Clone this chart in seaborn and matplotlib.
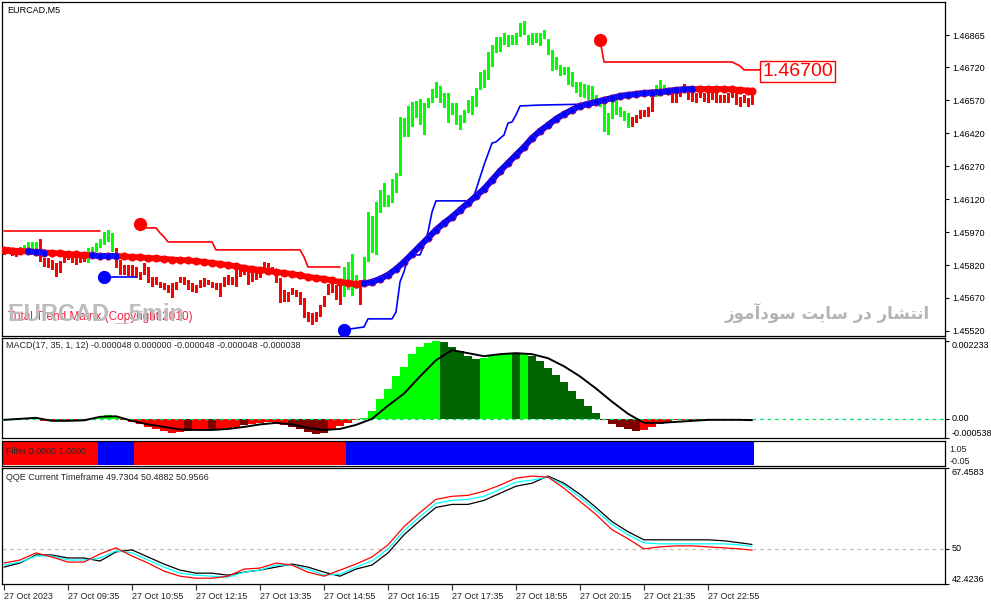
import numpy as np
import matplotlib
matplotlib.use("Agg")
import matplotlib.pyplot as plt
import seaborn as sns

# ── Datos: EURCAD M5, 27 Oct 2023, 188 velas desde 08:15 ────────────
bar_high = [
    1.45898, 1.45902, 1.45898, 1.45898, 1.45902, 1.45911, 1.45925, 1.45925, 1.45925, 1.45939,
    1.45852, 1.45852, 1.45843, 1.45829, 1.45838, 1.45866, 1.45866, 1.45857, 1.45857, 1.45866,
    1.45866, 1.45898, 1.45902, 1.45920, 1.45939, 1.45970, 1.45980, 1.45966, 1.45898, 1.45843,
    1.45820, 1.45820, 1.45820, 1.45811, 1.45788, 1.45829, 1.45811, 1.45766, 1.45766, 1.45743,
    1.45738, 1.45729, 1.45738, 1.45743, 1.45766, 1.45766, 1.45752, 1.45738, 1.45729, 1.45752,
    1.45761, 1.45752, 1.45743, 1.45738, 1.45738, 1.45766, 1.45775, 1.45766, 1.45807, 1.45798,
    1.45798, 1.45807, 1.45784, 1.45788, 1.45807, 1.45834, 1.45829, 1.45811, 1.45798, 1.45761,
    1.45707, 1.45697, 1.45716, 1.45707, 1.45697, 1.45670, 1.45606, 1.45602, 1.45606, 1.45638,
    1.45679, 1.45734, 1.45752, 1.45729, 1.45738, 1.45811, 1.45834, 1.45870, 1.45775, 1.45752,
    1.45857, 1.46061, 1.46043, 1.46107, 1.46162, 1.46194, 1.46139, 1.46212, 1.46239, 1.46494,
    1.46489, 1.46544, 1.46562, 1.46567, 1.46576, 1.46557, 1.46580, 1.46621, 1.46653, 1.46635,
    1.46603, 1.46603, 1.46557, 1.46557, 1.46503, 1.46526, 1.46571, 1.46589, 1.46627, 1.46698,
    1.46708, 1.46789, 1.46821, 1.46858, 1.46858, 1.46876, 1.46867, 1.46867, 1.46876, 1.46921,
    1.46931, 1.46867, 1.46876, 1.46876, 1.46876, 1.46890, 1.46849, 1.46799, 1.46767, 1.46730,
    1.46721, 1.46721, 1.46698, 1.46653, 1.46653, 1.46644, 1.46639, 1.46635, 1.46594, 1.46571,
    1.46562, 1.46512, 1.46571, 1.46576, 1.46539, 1.46521, 1.46512, 1.46494, 1.46503, 1.46526,
    1.46526, 1.46539, 1.46594, 1.46639, 1.46662, 1.46639, 1.46626, 1.46607, 1.46607, 1.46626,
    1.46644, 1.46617, 1.46617, 1.46603, 1.46617, 1.46603, 1.46603, 1.46607, 1.46603, 1.46594,
    1.46594, 1.46603, 1.46617, 1.46607, 1.46585, 1.46594, 1.46580, 1.46607,
]
bar_low = [
    1.45866, 1.45870, 1.45861, 1.45857, 1.45875, 1.45879, 1.45879, 1.45884, 1.45879, 1.45834,
    1.45811, 1.45807, 1.45798, 1.45766, 1.45784, 1.45829, 1.45843, 1.45829, 1.45820, 1.45829,
    1.45834, 1.45829, 1.45875, 1.45879, 1.45898, 1.45911, 1.45925, 1.45879, 1.45807, 1.45775,
    1.45775, 1.45770, 1.45766, 1.45761, 1.45752, 1.45775, 1.45738, 1.45720, 1.45729, 1.45716,
    1.45707, 1.45693, 1.45670, 1.45707, 1.45738, 1.45729, 1.45707, 1.45697, 1.45693, 1.45716,
    1.45720, 1.45729, 1.45716, 1.45707, 1.45675, 1.45720, 1.45729, 1.45729, 1.45720, 1.45766,
    1.45775, 1.45729, 1.45743, 1.45752, 1.45761, 1.45784, 1.45788, 1.45784, 1.45738, 1.45647,
    1.45652, 1.45652, 1.45684, 1.45675, 1.45638, 1.45579, 1.45561, 1.45547, 1.45561, 1.45584,
    1.45629, 1.45684, 1.45693, 1.45661, 1.45638, 1.45675, 1.45707, 1.45679, 1.45711, 1.45638,
    1.45734, 1.45834, 1.45875, 1.45866, 1.46057, 1.46084, 1.46084, 1.46102, 1.46148, 1.46227,
    1.46403, 1.46403, 1.46448, 1.46489, 1.46457, 1.46412, 1.46535, 1.46557, 1.46580, 1.46557,
    1.46535, 1.46466, 1.46503, 1.46457, 1.46435, 1.46466, 1.46512, 1.46503, 1.46539, 1.46617,
    1.46627, 1.46662, 1.46721, 1.46785, 1.46789, 1.46821, 1.46812, 1.46821, 1.46821, 1.46858,
    1.46867, 1.46821, 1.46821, 1.46830, 1.46817, 1.46849, 1.46776, 1.46703, 1.46708, 1.46680,
    1.46685, 1.46639, 1.46630, 1.46603, 1.46585, 1.46580, 1.46571, 1.46567, 1.46562, 1.46539,
    1.46425, 1.46412, 1.46485, 1.46503, 1.46494, 1.46475, 1.46444, 1.46448, 1.46466, 1.46485,
    1.46494, 1.46494, 1.46516, 1.46585, 1.46594, 1.46594, 1.46594, 1.46557, 1.46557, 1.46585,
    1.46603, 1.46571, 1.46562, 1.46557, 1.46580, 1.46562, 1.46557, 1.46571, 1.46557, 1.46557,
    1.46557, 1.46557, 1.46580, 1.46548, 1.46539, 1.46557, 1.46539, 1.46548,
]
# velas en tendencia alcista (verde); el resto en rojo
up_ranges = [(4, 8), (21, 27), (85, 88), (90, 156), (163, 166)]

# media móvil de puntos (cada 2 velas)
ma_bars = list(range(0, 187, 2)) + [187]
ma_vals = [
    1.45889, 1.45886, 1.45884, 1.45882, 1.45879, 1.45877, 1.45875, 1.45873, 1.45870, 1.45868,
    1.45866, 1.45864, 1.45861, 1.45861, 1.45861, 1.45859, 1.45857, 1.45855, 1.45852, 1.45850,
    1.45848, 1.45845, 1.45843, 1.45841, 1.45838, 1.45834, 1.45829, 1.45825, 1.45820, 1.45814,
    1.45807, 1.45802, 1.45798, 1.45793, 1.45788, 1.45784, 1.45779, 1.45773, 1.45766, 1.45761,
    1.45757, 1.45750, 1.45743, 1.45738, 1.45734, 1.45736, 1.45743, 1.45757, 1.45775, 1.45802,
    1.45834, 1.45870, 1.45907, 1.45943, 1.45980, 1.46011, 1.46039, 1.46071, 1.46102, 1.46134,
    1.46166, 1.46207, 1.46248, 1.46284, 1.46321, 1.46357, 1.46398, 1.46430, 1.46457, 1.46485,
    1.46507, 1.46526, 1.46544, 1.46553, 1.46562, 1.46571, 1.46580, 1.46589, 1.46594, 1.46598,
    1.46603, 1.46605, 1.46607, 1.46612, 1.46617, 1.46619, 1.46621, 1.46621, 1.46621, 1.46621,
    1.46621, 1.46619, 1.46617, 1.46614, 1.46612,
]
ma_blue_ranges = [(6, 10), (22, 28), (90, 172)]

# líneas de stop (vela, precio); el primer punto lleva el círculo
red_a_bars = [0, 24]
red_a_vals = [1.45975, 1.45975]
red_b_bars = [34, 35, 38, 39, 40, 41, 52, 53, 74, 75, 76, 84]
red_b_vals = [1.46007, 1.45989, 1.45989, 1.45966, 1.45948, 1.45925,
              1.45925, 1.45889, 1.45889, 1.45857, 1.45811, 1.45811]
red_c_bars = [149, 150, 182, 184, 185, 189]
red_c_vals = [1.46844, 1.46744, 1.46744, 1.46726, 1.46708, 1.46708]
blue_a_bars = [25, 33]
blue_a_vals = [1.45766, 1.45766]
blue_b_bars = [85, 90, 91, 97, 98, 99, 100, 101, 102, 104, 105, 106, 107,
               108, 117, 118, 120, 122, 123, 125, 126, 127, 128, 129, 134, 148]
blue_b_vals = [1.45525, 1.45538, 1.45575, 1.45575, 1.45606, 1.45743, 1.45790,
               1.45852, 1.45866, 1.45866, 1.45911, 1.45970, 1.46061, 1.46112,
               1.46112, 1.46162, 1.46275, 1.46375, 1.46380, 1.46412, 1.46466,
               1.46471, 1.46503, 1.46544, 1.46548, 1.46553]
price_label = 1.46700
price_ticks = [1.45520, 1.45670, 1.45820, 1.45970, 1.46120,
               1.46270, 1.46420, 1.46570, 1.46720, 1.46865]

# MACD(17,35,1,12): histograma cada 2 velas, señal cada 4
macd_bars = list(range(0, 187, 2))
macd_hist = [
    -0.000029, -0.000029, -0.000015, 0.000000, 0.000000, -0.000058, -0.000073, -0.000058, -0.000044, -0.000029,
    -0.000029, 0.000000, 0.000058, 0.000116, 0.000058, -0.000029, -0.000087, -0.000145, -0.000232, -0.000290,
    -0.000348, -0.000406, -0.000377, -0.000348, -0.000319, -0.000319, -0.000319, -0.000290, -0.000261, -0.000232,
    -0.000174, -0.000145, -0.000116, -0.000087, -0.000116, -0.000174, -0.000232, -0.000290, -0.000377, -0.000435,
    -0.000406, -0.000319, -0.000203, -0.000116, -0.000044, 0.000029, 0.000232, 0.000580, 0.000870, 0.001218,
    0.001479, 0.001856, 0.002059, 0.002175, 0.002233, 0.002204, 0.002059, 0.001943, 0.001798, 0.001711,
    0.001755, 0.001798, 0.001856, 0.001885, 0.001871, 0.001891, 0.001798, 0.001653, 0.001450, 0.001247,
    0.001044, 0.000812, 0.000580, 0.000377, 0.000174, -0.000029, -0.000145, -0.000232, -0.000290, -0.000348,
    -0.000319, -0.000232, -0.000145, -0.000087, -0.000044, -0.000044, -0.000040, -0.000038, -0.000036, -0.000034,
    -0.000032, -0.000030, -0.000030, -0.000048,
]
macd_dark_ranges = [(46, 46), (52, 52), (60, 60), (72, 80),
                    (110, 118), (128, 128), (132, 148), (150, 158)]
sig_bars = list(range(0, 185, 4)) + [187]
macd_signal = [
    -0.000029, 0.000000, 0.000029, -0.000058, -0.000058, -0.000044, 0.000058, 0.000073,
    -0.000058, -0.000160, -0.000232, -0.000305, -0.000319, -0.000319, -0.000290, -0.000232,
    -0.000160, -0.000116, -0.000160, -0.000261, -0.000319, -0.000290, -0.000174, 0.000000,
    0.000377, 0.000725, 0.001218, 0.001682, 0.001972, 0.001885, 0.001798, 0.001856,
    0.001885, 0.001856, 0.001740, 0.001508, 0.001218, 0.000870, 0.000493, 0.000145,
    -0.000116, -0.000116, -0.000087, -0.000058, -0.000029, -0.000029, -0.000029, -0.000038,
]

# Filter: tramos alcistas (azul), resto bajista (rojo)
filter_up_ranges = [(24, 32), (86, 187)]

# QQE Current Timeframe, cada 4 velas
qqe_bars = list(range(0, 185, 4)) + [187]
qqe_red = [
    46.95, 47.60, 49.13, 48.25, 47.16, 47.16, 48.91, 50.22, 48.47, 46.95, 45.20, 44.11,
    43.67, 43.67, 44.11, 45.64, 45.86, 46.95, 46.51, 44.98, 44.11, 45.42, 46.73, 48.25,
    50.87, 54.80, 57.86, 60.69, 61.35, 61.56, 62.44, 63.75, 65.27, 65.71, 65.49, 63.09,
    60.26, 57.42, 54.15, 52.18, 50.00, 50.44, 50.65, 50.65, 50.44, 50.22, 50.00, 49.73,
]
qqe_cyan = [
    46.51, 47.16, 48.47, 48.47, 47.60, 47.60, 48.04, 49.56, 49.13, 47.60, 46.07, 44.76,
    44.33, 44.11, 43.89, 44.98, 45.42, 46.51, 46.51, 45.64, 44.33, 44.55, 46.07, 47.38,
    50.00, 53.93, 56.98, 59.82, 60.47, 60.69, 61.35, 62.87, 64.40, 64.84, 65.49, 63.75,
    61.13, 58.29, 55.24, 53.05, 51.31, 51.09, 51.09, 51.09, 51.09, 51.09, 50.87, 50.49,
]
qqe_black = [
    46.07, 46.95, 48.69, 48.69, 48.04, 48.04, 47.38, 49.35, 49.78, 48.25, 46.73, 45.42,
    44.76, 44.76, 44.33, 44.98, 45.42, 46.07, 46.73, 46.07, 44.98, 44.11, 45.64, 46.51,
    49.13, 53.05, 56.11, 58.95, 59.60, 59.60, 60.47, 62.00, 63.53, 64.18, 65.71, 64.18,
    61.78, 58.95, 55.89, 53.71, 51.96, 51.96, 51.96, 51.96, 51.96, 51.75, 51.31, 50.96,
]

time_labels = ["27 Oct 2023", "27 Oct 09:35", "27 Oct 10:55", "27 Oct 12:15",
               "27 Oct 13:35", "27 Oct 14:55", "27 Oct 16:15", "27 Oct 17:35",
               "27 Oct 18:55", "27 Oct 20:15", "27 Oct 21:35", "27 Oct 22:55"]
time_ticks = list(range(0, 188, 16))

watermark_fa = "انتشار در سایت سودآموز"


def in_ranges(i, ranges):
    return any(a <= i <= b for a, b in ranges)


# matplotlib no da forma al árabe: formas de presentación + orden visual
FA_FORMS = {  # aislada, final, inicial, medial
    "ا": ("\uFE8D", "\uFE8E", None, None),
    "آ": ("\uFE81", "\uFE82", None, None),
    "د": ("\uFEA9", "\uFEAA", None, None),
    "ر": ("\uFEAD", "\uFEAE", None, None),
    "ز": ("\uFEAF", "\uFEB0", None, None),
    "و": ("\uFEED", "\uFEEE", None, None),
    "ن": ("\uFEE5", "\uFEE6", "\uFEE7", "\uFEE8"),
    "ت": ("\uFE95", "\uFE96", "\uFE97", "\uFE98"),
    "ش": ("\uFEB5", "\uFEB6", "\uFEB7", "\uFEB8"),
    "س": ("\uFEB1", "\uFEB2", "\uFEB3", "\uFEB4"),
    "م": ("\uFEE1", "\uFEE2", "\uFEE3", "\uFEE4"),
    "ی": ("\uFBFC", "\uFBFD", "\uFEF3", "\uFEF4"),
}


def shape_fa(text):
    out = []
    for i, c in enumerate(text):
        if c not in FA_FORMS:
            out.append(c)
            continue
        prev = text[i - 1] if i > 0 else " "
        nxt = text[i + 1] if i + 1 < len(text) else " "
        joins_prev = prev in FA_FORMS and FA_FORMS[prev][2] is not None
        joins_next = nxt in FA_FORMS and FA_FORMS[c][2] is not None
        iso, fin, ini, med = FA_FORMS[c]
        if joins_prev and joins_next:
            out.append(med)
        elif joins_prev:
            out.append(fin)
        elif joins_next:
            out.append(ini)
        else:
            out.append(iso)
    return "".join(out)[::-1]


# ── Estilo ──────────────────────────────────────────────────────────
sns.set_theme(style="white")
plt.rcParams["font.family"] = ["Liberation Sans", "DejaVu Sans"]
plt.rcParams["axes.edgecolor"] = "black"
plt.rcParams["axes.linewidth"] = 0.9

GREEN, RED, BLUE = "#00ff00", "#ff0000", "#0000ff"
FS = 6.5

fig = plt.figure(figsize=(9.91, 6.05), dpi=100)
fig.patch.set_facecolor("white")
L, W = 2 / 991, 943 / 991
ax_p = fig.add_axes([L, 269 / 605, W, 334 / 605])
ax_m = fig.add_axes([L, 167 / 605, W, 100 / 605])
ax_f = fig.add_axes([L, 139 / 605, W, 25 / 605])
ax_q = fig.add_axes([L, 21 / 605, W, 116 / 605])

XLIM = (-0.5, 235.25)
for ax in (ax_p, ax_m, ax_f, ax_q):
    ax.set_xlim(*XLIM)
    ax.set_facecolor("white")
    for s in ax.spines.values():
        s.set_color("black")
        s.set_linewidth(0.9)
    ax.yaxis.tick_right()
    ax.tick_params(axis="y", direction="out", length=3, width=0.8,
                   labelsize=FS, pad=2, colors="black")
    ax.set_xticks([])

# ── Panel de precio ─────────────────────────────────────────────────
n = len(bar_high)
xs = np.arange(n)
hi = np.array(bar_high)
lo = np.array(bar_low)
cols = [GREEN if in_ranges(i, up_ranges) else RED for i in range(n)]
ax_p.bar(xs, hi - lo, bottom=lo, width=0.75, color=cols, linewidth=0,
         antialiased=False, zorder=2)

for bx, vy, c in [(red_a_bars, red_a_vals, RED), (red_b_bars, red_b_vals, RED),
                  (red_c_bars, red_c_vals, RED), (blue_a_bars, blue_a_vals, BLUE),
                  (blue_b_bars, blue_b_vals, BLUE)]:
    sns.lineplot(x=bx, y=vy, ax=ax_p, color=c, linewidth=1.2, zorder=3,
                 legend=False, sort=False, estimator=None)
for bx, vy, c in [(red_b_bars, red_b_vals, RED), (red_c_bars, red_c_vals, RED),
                  (blue_a_bars, blue_a_vals, BLUE), (blue_b_bars, blue_b_vals, BLUE)]:
    ax_p.plot(bx[0], vy[0], "o", color=c, markersize=8.5, zorder=6)

ma_b = np.array(ma_bars)
ma_v = np.array(ma_vals)
ax_p.plot(ma_b, ma_v, color=RED, linewidth=4.2, marker="o", markersize=4.8,
          zorder=4, solid_capstyle="round")
for a, b in ma_blue_ranges:
    m = (ma_b >= a) & (ma_b <= b)
    ax_p.plot(ma_b[m], ma_v[m], color=BLUE, linewidth=4.2, marker="o",
              markersize=4.8, markeredgecolor="#5020c0", markeredgewidth=0.5,
              zorder=5, solid_capstyle="round")

ax_p.set_ylim(1.45497, 1.47017)
ax_p.set_yticks(price_ticks)
ax_p.set_yticklabels([f"{v:.5f}" for v in price_ticks])
ax_p.set_ylabel("")
ax_p.set_xlabel("")

ax_p.text(red_c_bars[-1] + 0.6, price_label, f"{price_label:.5f}",
          color=RED, fontsize=14, va="center", ha="left", zorder=8,
          bbox=dict(boxstyle="square,pad=0.1", fc="white", ec=RED, lw=1.0))

ax_p.text(0.0053, 0.975, "EURCAD,M5", transform=ax_p.transAxes,
          fontsize=FS, va="center", ha="left", color="black")
ax_p.text(0.0064, 0.058, "Total Trend Matrix (Copyright 2010)",
          transform=ax_p.transAxes, fontsize=8.5, va="center", ha="left",
          color="#f0203c", zorder=7)
ax_p.text(0.0064, 0.066, "EURCAD _5min", transform=ax_p.transAxes,
          fontsize=17, fontweight="bold", va="center", ha="left",
          color="#bcbcbc", zorder=8)
ax_p.text(0.984, 0.069, shape_fa(watermark_fa), transform=ax_p.transAxes,
          fontsize=12, fontweight="bold", va="center", ha="right",
          color="#b4b4b4", zorder=8, family=["DejaVu Sans"])

# ── MACD ────────────────────────────────────────────────────────────
hcols = []
for b, v in zip(macd_bars, macd_hist):
    dark = in_ranges(b, macd_dark_ranges)
    if v >= 0:
        hcols.append("#006400" if dark else GREEN)
    else:
        hcols.append("#800000" if dark else RED)
ax_m.bar(macd_bars, macd_hist, width=2.0, color=hcols, linewidth=0,
         align="center", zorder=2)
ax_m.axhline(0, color="#00e070", linewidth=0.9, linestyle=(0, (3, 3)), zorder=3)
sns.lineplot(x=sig_bars, y=macd_signal, ax=ax_m, color="black", linewidth=1.4,
             zorder=4, legend=False, estimator=None)
ax_m.set_ylim(-0.00055, 0.00232)
ax_m.set_yticks([0.002233, 0.0, -0.000538])
ax_m.set_yticklabels(["0.002233", "0.00", "-0.000538"])
for lbl, va in zip(ax_m.get_yticklabels(), ["top", "center", "bottom"]):
    lbl.set_va(va)
ax_m.set_ylabel("")
ax_m.text(0.0042, 0.92, "MACD(17, 35, 1, 12) -0.000048 0.000000 -0.000048 -0.000048 -0.000038",
          transform=ax_m.transAxes, fontsize=FS, va="center", ha="left")

# ── Filter ──────────────────────────────────────────────────────────
fcols = [BLUE if in_ranges(i, filter_up_ranges) else RED for i in range(n)]
ax_f.bar(xs, np.ones(n), width=1.0, color=fcols, linewidth=0, zorder=2)
ax_f.set_ylim(-0.05, 1.05)
ax_f.set_yticks([])
ax_f.text(0.0042, 0.6, "Filter 0.0000 1.0000", transform=ax_f.transAxes,
          fontsize=FS, va="center", ha="left", zorder=5)
for ty, txt in [(0.64, "1.05"), (0.2, "-0.05")]:
    ax_f.text(1.005, ty, txt, transform=ax_f.transAxes, fontsize=FS,
              va="center", ha="left", clip_on=False)

# ── QQE ─────────────────────────────────────────────────────────────
ax_q.axhline(50, color="#c0c0c0", linewidth=0.9, linestyle=(0, (3, 3)), zorder=1)
for vals, c in [(qqe_black, "black"), (qqe_cyan, "#00ffff"), (qqe_red, RED)]:
    sns.lineplot(x=qqe_bars, y=vals, ax=ax_q, color=c, linewidth=0.9,
                 zorder=3, legend=False, estimator=None)
ax_q.set_ylim(42.4236, 67.4583)
ax_q.set_yticks([67.4583, 50, 42.4236])
ax_q.set_yticklabels(["67.4583", "50", "42.4236"])
for lbl, va in zip(ax_q.get_yticklabels(), ["top", "center", "bottom"]):
    lbl.set_va(va)
ax_q.set_ylabel("")
ax_q.set_xlabel("")
ax_q.text(0.0042, 0.914, "QQE Current Timeframe 49.7304 50.4882 50.9566",
          transform=ax_q.transAxes, fontsize=FS, va="center", ha="left")
ax_q.set_xticks(time_ticks)
ax_q.set_xticklabels(time_labels, ha="left")
ax_q.tick_params(axis="x", direction="out", length=4, width=0.8,
                 labelsize=FS, pad=1.5, bottom=True)
ax_q.set_xlim(*XLIM)

fig.savefig("out.png", dpi=100, facecolor="white")
